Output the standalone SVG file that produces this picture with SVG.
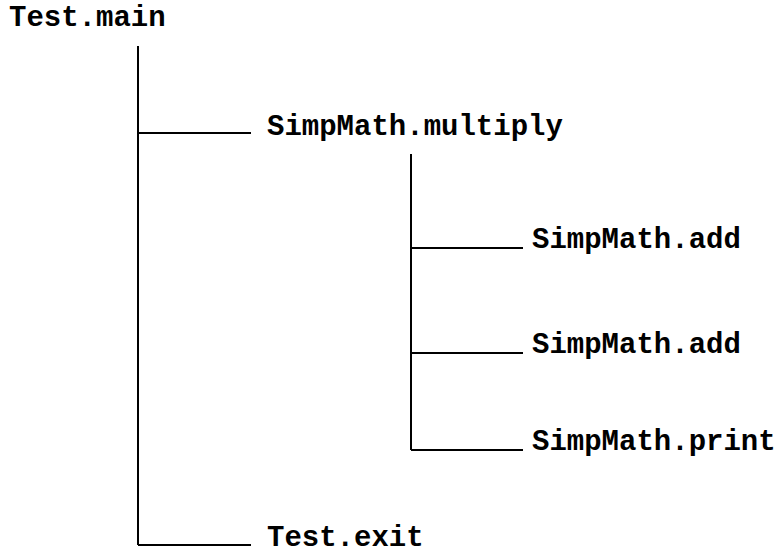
<svg xmlns="http://www.w3.org/2000/svg" width="782" height="553" viewBox="0 0 782 553">
<style>
.t{font-family:"Liberation Mono","Courier New",monospace;font-weight:bold;font-size:29px;fill:#000}
.c line{stroke:#000;stroke-width:2;fill:none}
</style>
<rect width="782" height="553" fill="#fff"/>
<g id="connectors" class="c">
<line x1="138" y1="46" x2="138" y2="545"/>
<line x1="138" y1="133" x2="251" y2="133"/>
<line x1="138" y1="545" x2="251" y2="545"/>
<line x1="411" y1="154" x2="411" y2="450"/>
<line x1="411" y1="248" x2="523" y2="248"/>
<line x1="411" y1="353" x2="523" y2="353"/>
<line x1="411" y1="450" x2="523" y2="450"/>
</g>
<g id="n_main"><text class="t" x="9" y="26">Test.main</text></g>
<g id="n_multiply"><text class="t" x="267" y="135">SimpMath.multiply</text></g>
<g id="n_add1"><text class="t" x="532" y="248">SimpMath.add</text></g>
<g id="n_add2"><text class="t" x="532" y="353">SimpMath.add</text></g>
<g id="n_print"><text class="t" x="532" y="450">SimpMath.print</text></g>
<g id="n_exit"><text class="t" x="267" y="546">Test.exit</text></g>
</svg>
